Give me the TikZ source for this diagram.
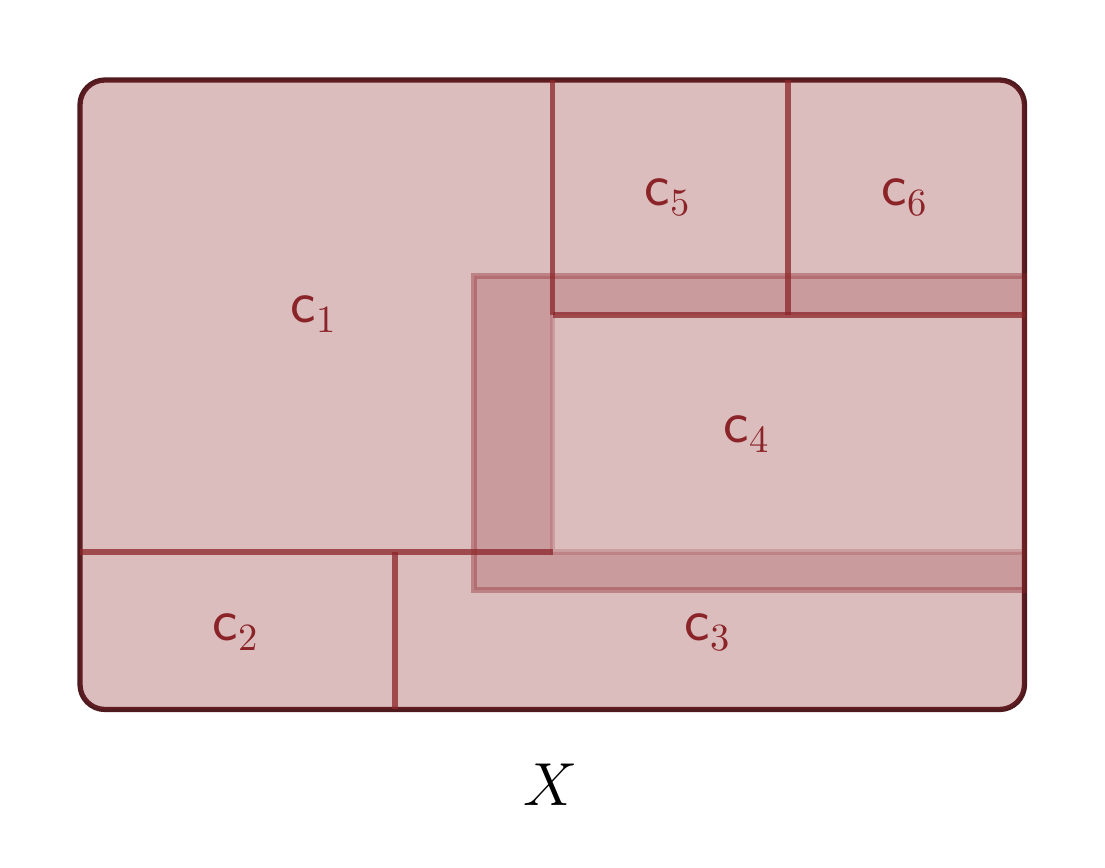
\documentclass[tikz,border=0pt]{standalone}
\definecolor{cred}{HTML}{8B2428}
\definecolor{cdark}{HTML}{4E1A1E}
\begin{document}
\begin{tikzpicture}[x=0.01cm,y=-0.01cm,
  gridline/.style={draw=cred, draw opacity=0.75, line width=1.5pt},
  lbl/.style={text=cred, anchor=base, inner sep=0pt, font=\fontsize{16.3}{19}\selectfont},
  band/.style={fill=cred, fill opacity=0.22, even odd rule},
  bandedge/.style={draw=cred, draw opacity=0.38, line width=1.5pt}]
\useasboundingbox (0,0) rectangle (1105,868);
% outer set X
\coordinate (NW) at (80,80);
\coordinate (SE) at (1024.5,709.5);
\draw[cdark, line width=1.5pt, rounded corners=7.1pt] (NW) rectangle (SE);
\fill[cred, fill opacity=0.3, rounded corners=7.1pt] (NW) rectangle (SE);
% grid coordinates
\coordinate (t1) at (552.5,80);
\coordinate (m1) at (552.5,315);
\coordinate (t2) at (788,80);
\coordinate (m2) at (788,315);
\coordinate (r1) at (1024.5,315);
\coordinate (l3) at (80,552);
\coordinate (m3) at (552.5,552);
\coordinate (r3) at (1024.5,552);
\coordinate (m4) at (395,552);
\coordinate (b4) at (395,709.5);
% band (neighbourhood of c4)
\coordinate (B1) at (474,276);
\coordinate (B2) at (1024.5,590);
\path[band] (B1) rectangle (B2) (m1) rectangle (r3);
\draw[bandedge] (B1) rectangle (B2);
\draw[draw=cred, draw opacity=0.2, line width=1.5pt] (m1) -- (m3) -- (r3);
% partition lines
\draw[gridline] (t1) -- (m1);
\draw[gridline] (t2) -- (m2);
\draw[gridline] (m1) -- (r1);
\draw[gridline] (l3) -- (m3);
\draw[gridline] (m4) -- (b4);
% labels
\node[lbl] (c1) at (314,323) {$\mathsf{c}_1$};
\node[lbl] (c2) at (236,641) {$\mathsf{c}_2$};
\node[lbl] (c3) at (708,641) {$\mathsf{c}_3$};
\node[lbl] (c4) at (747,443) {$\mathsf{c}_4$};
\node[lbl] (c5) at (668,206) {$\mathsf{c}_5$};
\node[lbl] (c6) at (905,206) {$\mathsf{c}_6$};
\node[lbl, text=black] (X) at (551,806) {$X$};
\end{tikzpicture}
\end{document}
